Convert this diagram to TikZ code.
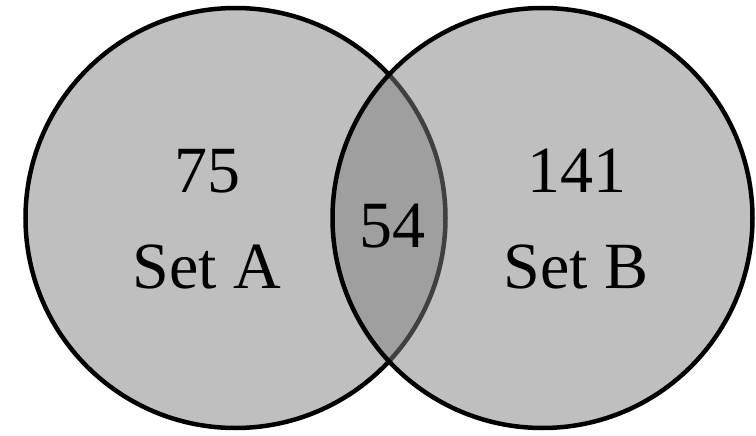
\documentclass[tikz,border=0pt]{standalone}
\usepackage{fontspec}
\setmainfont{Liberation Serif}
\begin{document}
\begin{tikzpicture}[x=1pt,y=-1pt,
  setcircle/.style={draw=black,line width=4.5pt,fill=gray,fill opacity=0.5,draw opacity=1},
  lbl/.style={anchor=base,inner sep=0pt,font=\fontsize{66}{70}\selectfont,text=black,text opacity=1}]
  \useasboundingbox (0,0) rectangle (756,436);
  % the two sets
  \draw[setcircle] (235.5,218) circle[radius=210];
  \draw[setcircle] (542.5,218) circle[radius=210];
  % counts and names
  \node[lbl] (na) at (207,193) {75};
  \node[lbl] (la) at (207,288) {Set A};
  \node[lbl] (nab) at (392,247) {54};
  \node[lbl] (nb) at (577,193) {141};
  \node[lbl] (lb) at (576,288) {Set B};
\end{tikzpicture}
\end{document}
